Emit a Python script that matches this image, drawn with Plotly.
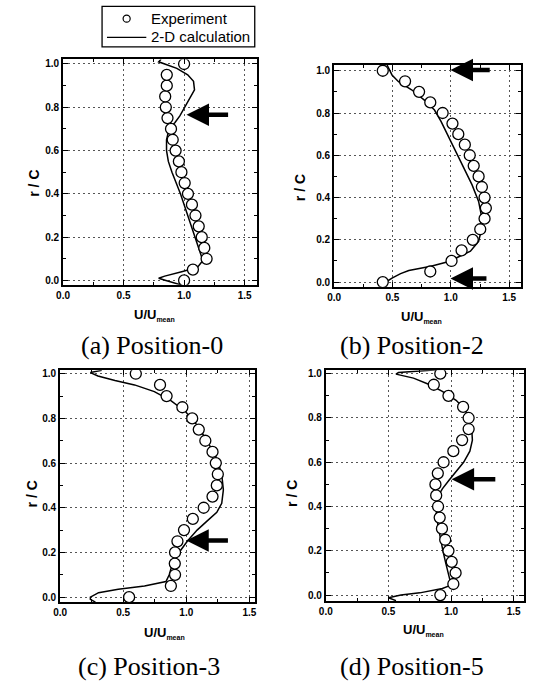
import plotly.graph_objects as go

W, H = 533, 683

# ---------------- data ----------------
r_exp = [0.0, 0.05, 0.1, 0.15, 0.2, 0.25, 0.3, 0.35, 0.4, 0.45, 0.5,
         0.55, 0.6, 0.65, 0.7, 0.75, 0.8, 0.85, 0.9, 0.95, 1.0]

u_exp_a = [1.0, 1.073, 1.186, 1.167, 1.146, 1.121, 1.094, 1.065, 1.032, 1.005, 0.978,
           0.957, 0.930, 0.906, 0.892, 0.863, 0.849, 0.844, 0.857, 0.857, 1.0]
u_exp_b = [0.417, 0.824, 1.006, 1.092, 1.188, 1.252, 1.289, 1.300, 1.289, 1.266, 1.238,
           1.196, 1.162, 1.120, 1.064, 1.014, 0.930, 0.824, 0.728, 0.608, 0.417]
u_exp_c = [0.547, 0.878, 0.911, 0.909, 0.911, 0.930, 0.982, 1.052, 1.138, 1.208, 1.242,
           1.250, 1.234, 1.208, 1.151, 1.099, 1.047, 0.969, 0.844, 0.792, 0.60]
u_exp_d = [0.914, 1.018, 1.036, 1.005, 0.979, 0.953, 0.927, 0.909, 0.896, 0.881, 0.875,
           0.894, 0.940, 1.018, 1.088, 1.140, 1.140, 1.096, 0.979, 0.862, 0.914]

r_calc_a = [-0.025, -0.01, 0.0, 0.01, 0.02, 0.04, 0.06, 0.092, 0.15, 0.2, 0.3, 0.4, 0.5,
            0.55, 0.6, 0.65, 0.7, 0.73, 0.76, 0.8, 0.85, 0.88, 0.92, 0.95, 0.98, 1.0, 1.01, 1.022]
u_calc_a = [1.0, 0.92, 0.85, 0.79, 0.84, 0.98, 1.11, 1.155, 1.12, 1.095, 1.035, 0.97, 0.90,
            0.87, 0.855, 0.855, 0.876, 0.925, 0.965, 1.005, 1.06, 1.086, 1.078, 1.03, 0.94, 0.83, 0.79, 0.81]

r_calc_b = [-0.022, -0.011, 0.006, 0.02, 0.04, 0.055, 0.075, 0.1, 0.115, 0.146, 0.193, 0.256,
            0.303, 0.382, 0.46, 0.539, 0.618, 0.697, 0.76, 0.814, 0.86, 0.91, 0.948, 0.98, 1.027]
u_calc_b = [0.44, 0.45, 0.46, 0.50, 0.57, 0.64, 0.83, 1.0, 1.05, 1.168, 1.238, 1.266,
            1.266, 1.238, 1.182, 1.112, 1.042, 0.972, 0.916, 0.86, 0.776, 0.664, 0.552, 0.496, 0.454]

r_calc_c = [-0.022, -0.01, 0.0, 0.02, 0.035, 0.05, 0.07, 0.1, 0.15, 0.2, 0.25, 0.3, 0.34, 0.38,
            0.42, 0.48, 0.55, 0.62, 0.7, 0.77, 0.83, 0.88, 0.92, 0.95, 0.97, 0.99, 1.005, 1.015]
u_calc_c = [0.28, 0.24, 0.24, 0.305, 0.461, 0.669, 0.839, 0.865, 0.891, 0.943, 1.008, 1.086, 1.164, 1.242,
            1.281, 1.294, 1.281, 1.242, 1.164, 1.086, 0.995, 0.878, 0.747, 0.59, 0.435, 0.30, 0.24, 0.33]

r_calc_d = [-0.025, -0.012, 0.0, 0.01, 0.03, 0.045, 0.07, 0.1, 0.15, 0.2, 0.25, 0.3, 0.35, 0.4,
            0.44, 0.48, 0.52, 0.56, 0.6, 0.65, 0.7, 0.75, 0.8, 0.84, 0.88, 0.92, 0.95, 0.98,
            0.998, 1.005, 1.012, 1.02]
u_calc_d = [0.56, 0.50, 0.60, 0.75, 0.93, 1.0, 0.99, 0.975, 0.955, 0.935, 0.915, 0.90, 0.885, 0.88,
            0.89, 0.93, 0.985, 1.04, 1.10, 1.15, 1.17, 1.165, 1.14, 1.11, 1.04, 0.93, 0.83, 0.70,
            0.56, 0.58, 0.75, 0.95]

captions = ["(a) Position-0", "(b) Position-2", "(c) Position-3", "(d) Position-5"]
# arrows: (tip_u, tip_r, tail_u, tail_r) per panel
arrows = [
    [(1.02, 0.766, 1.376, 0.766)],
    [(0.997, 1.003, 1.346, 1.003), (0.997, 0.017, 1.318, 0.017)],
    [(1.0, 0.254, 1.342, 0.254)],
    [(1.004, 0.523, 1.365, 0.523)],
]
x_tick_vals = [0.0, 0.5, 1.0, 1.5]
y_tick_vals = [0.0, 0.2, 0.4, 0.6, 0.8, 1.0]

# ---------------- layout geometry (pixels) ----------------
frames = [
    (57.0, 254.0, 57.7, 284.0),
    (332.7, 522.7, 63.3, 286.0),
    (54.0, 252.3, 370.0, 602.7),
    (324.3, 526.0, 370.0, 601.7),
]
xranges = [[0, 1.6], [0, 1.6], [0, 1.545], [0, 1.583]]
yranges = [[-0.02, 1.021], [-0.022, 1.027], [-0.022, 1.015], [-0.027, 1.015]]

ytitle_pos = [(28, 182), (298, 186), (25, 494), (290, 494)]
xtitle_pos = [(150, 314), (422, 316), (160, 634), (424, 631)]
caption_pos = [(147, 345), (412, 345), (144, 667), (412, 667)]

fig = go.Figure()

exp_sets = [u_exp_a, u_exp_b, u_exp_c, u_exp_d]
calc_sets = [(r_calc_a, u_calc_a), (r_calc_b, u_calc_b), (r_calc_c, u_calc_c), (r_calc_d, u_calc_d)]


def px(x):
    return x / W


def py(y):
    return 1 - y / H


TICKFONT = dict(family="Liberation Sans, Arial", size=10, color="black", weight="bold")


def note(x, y, text, size, family="Liberation Sans, Arial", angle=0, xanchor="center"):
    fig.add_annotation(x=px(x), y=py(y), xref="paper", yref="paper", text=text,
                       textangle=angle, showarrow=False, xanchor=xanchor, yanchor="middle",
                       font=dict(family=family, size=size, color="black"))


for i in range(4):
    xa = "x" if i == 0 else f"x{i+1}"
    ya = "y" if i == 0 else f"y{i+1}"
    rc, uc = calc_sets[i]
    fig.add_trace(go.Scatter(x=uc, y=rc, mode="lines", xaxis=xa, yaxis=ya,
                             line=dict(color="black", width=1.5), showlegend=False))
    fig.add_trace(go.Scatter(x=exp_sets[i], y=r_exp, mode="markers", xaxis=xa, yaxis=ya,
                             marker=dict(symbol="circle", size=11, color="white",
                                         line=dict(color="black", width=1.3)),
                             showlegend=False))
    l, r, t, b = frames[i]
    axkey = "xaxis" if i == 0 else f"xaxis{i+1}"
    aykey = "yaxis" if i == 0 else f"yaxis{i+1}"
    common = dict(showline=True, linecolor="black", linewidth=2, mirror="ticks",
                  ticks="inside", ticklen=5, tickwidth=1.2, tickcolor="black",
                  showgrid=True, gridcolor="#555", griddash="2px,3px", gridwidth=1,
                  zeroline=False, tickfont=TICKFONT, tickformat=".1f")
    fig.update_layout({
        axkey: dict(domain=[px(l), px(r)], range=xranges[i], anchor=ya,
                    tickvals=x_tick_vals,
                    minor=dict(ticks="inside", ticklen=3, tickcolor="black",
                               tickvals=[0.25, 0.75, 1.25], showgrid=False),
                    **common),
        aykey: dict(domain=[py(b), py(t)], range=yranges[i], anchor=xa,
                    tickvals=y_tick_vals,
                    minor=dict(ticks="inside", ticklen=3, tickcolor="black",
                               tickvals=[0.1, 0.3, 0.5, 0.7, 0.9], showgrid=False),
                    **common),
    })
    note(ytitle_pos[i][0], ytitle_pos[i][1], "<b>r / C</b>", 14, angle=-90)
    note(xtitle_pos[i][0], xtitle_pos[i][1],
         "<b>U/U<sub><span style='font-size:7px'>mean</span></sub></b>", 13)
    note(caption_pos[i][0], caption_pos[i][1], captions[i], 26,
         family="Liberation Serif, Times New Roman")
    for (tu, tr, au, ar) in arrows[i]:
        fig.add_annotation(x=tu, y=tr, ax=au, ay=ar, xref=xa, yref=ya, axref=xa, ayref=ya,
                           text="", showarrow=True, arrowhead=2, arrowsize=1.0,
                           arrowwidth=4.5, arrowcolor="black")

# ---------------- legend (drawn box) ----------------
leg_l, leg_r, leg_t, leg_b = 96.7, 252.0, 4.3, 45.0
fig.add_shape(type="rect", xref="paper", yref="paper",
              x0=px(leg_l), x1=px(leg_r), y0=py(leg_b), y1=py(leg_t),
              line=dict(color="black", width=1.3), fillcolor="white")
fig.add_shape(type="circle", xref="paper", yref="paper",
              x0=px(121.7 - 3.6), x1=px(121.7 + 3.6), y0=py(16.7 + 3.6), y1=py(16.7 - 3.6),
              line=dict(color="black", width=1.2), fillcolor="white")
fig.add_shape(type="line", xref="paper", yref="paper",
              x0=px(101.7), x1=px(141.7), y0=py(35.5), y1=py(35.5),
              line=dict(color="black", width=1.3))
note(144, 16.7, "Experiment", 15, xanchor="left")
note(144, 35.0, "2-D calculation", 15, xanchor="left")

fig.update_layout(width=W, height=H, margin=dict(l=0, r=0, t=0, b=0),
                  paper_bgcolor="white", plot_bgcolor="white", showlegend=False)

fig.write_html("out.html", config={"displayModeBar": False},
               post_script="document.body.style.margin='0';document.body.style.overflow='hidden';")
